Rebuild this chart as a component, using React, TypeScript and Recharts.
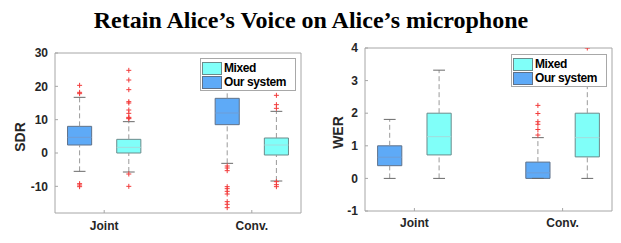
import React from 'react';
import {
  ComposedChart,
  XAxis,
  YAxis,
  Scatter,
  ReferenceArea,
  ReferenceLine,
  Legend,
} from 'recharts';

const categories = ['Joint', 'Conv.'];
const legendNames = ['Mixed', 'Our system'];

// one row per category: [lower whisker, q1, median, q3, upper whisker]
const sdrOurs = [
  [-5.5, 2.4, 4.7, 8.0, 16.7],
  [-3.1, 8.5, 12.0, 16.4, 24.5],
];
const sdrMixed = [
  [-5.7, 0.0, 1.7, 4.1, 9.4],
  [-8.4, -0.6, 2.4, 4.5, 12.5],
];
const sdrOursOutliers = [
  [20.3, 18.2, 17.8, -9.2, -9.6, -10.1],
  [-3.9, -4.5, -5.3, -10.1, -10.7, -11.5, -12.3, -14.6, -15.4, -16.4],
];
const sdrMixedOutliers = [
  [24.8, 21.9, 19.0, 15.4, 15.0, 12.9, 11.9, 10.7, 10.5, 10.3, -6.3, -10.0],
  [17.3, 14.5, 13.4, -8.6, -9.5, -10.1],
];

const werOurs = [
  [0, 0.39, 0.65, 1.0, 1.81],
  [0, 0, 0.17, 0.5, 1.25],
];
const werMixed = [
  [0, 0.72, 1.28, 2.0, 3.32],
  [0, 0.66, 1.25, 2.0, 3.5],
];
const werOursOutliers: number[][] = [[], [2.24, 1.99, 1.74, 1.66, 1.5, 1.33]];
const werMixedOutliers: number[][] = [[], [4.0]];

const sdrTicks = [-10, 0, 10, 20, 30];
const werTicks = [-1, 0, 1, 2, 3, 4];

// layout on the numeric x axis
const CATEGORY_POS = [1, 4];
const OURS_OFFSET = -0.5;
const MIXED_OFFSET = 0.5;
const BOX_HALF = 0.245;
const CAP_HALF = 0.12;

const AXIS = '#a6a6a6';
const TEXT = '#262626';
const WHISKER = '#9a9a9a';
const CAP = '#6a6a6a';
const SANS = "'Liberation Sans', Arial, sans-serif";

const OURS = { fill: '#5EAAF7', edge: '#5f7189', median: '#6f9dd6' };
const MIXED = { fill: '#80FFF9', edge: '#6b8b8b', median: '#a3dcdc' };

const Plus = ({ cx, cy }: any) => (
  <path
    d={`M${cx - 2.5},${cy}H${cx + 2.5}M${cx},${cy - 2.5}V${cy + 2.5}`}
    stroke="#f23b3b"
    strokeWidth={1}
    fill="none"
  />
);

function boxElements(stats: number[][], offset: number, c: typeof OURS, key: string) {
  return stats.flatMap(([lo, q1, med, q3, hi], i) => {
    const x = CATEGORY_POS[i] + offset;
    return [
      <ReferenceLine key={`${key}-wu${i}`} segment={[{ x, y: q3 }, { x, y: hi }]} stroke={WHISKER} strokeDasharray="5 3" />,
      <ReferenceLine key={`${key}-wl${i}`} segment={[{ x, y: lo }, { x, y: q1 }]} stroke={WHISKER} strokeDasharray="5 3" />,
      <ReferenceLine key={`${key}-ch${i}`} segment={[{ x: x - CAP_HALF, y: hi }, { x: x + CAP_HALF, y: hi }]} stroke={CAP} />,
      <ReferenceLine key={`${key}-cl${i}`} segment={[{ x: x - CAP_HALF, y: lo }, { x: x + CAP_HALF, y: lo }]} stroke={CAP} />,
      <ReferenceArea
        key={`${key}-b${i}`}
        x1={x - BOX_HALF}
        x2={x + BOX_HALF}
        y1={q1}
        y2={q3}
        fill={c.fill}
        fillOpacity={1}
        stroke={c.edge}
      />,
      <ReferenceLine key={`${key}-m${i}`} segment={[{ x: x - BOX_HALF, y: med }, { x: x + BOX_HALF, y: med }]} stroke={c.median} />,
    ];
  });
}

const outlierPoints = (out: number[][], offset: number) =>
  out.flatMap((vals, i) => vals.map((y) => ({ x: CATEGORY_POS[i] + offset, y })));

const LegendBox = () => (
  <div
    style={{
      background: '#fff',
      border: '1px solid #a8a8a8',
      width: 96,
      height: 33,
      fontFamily: SANS,
      fontWeight: 'bold',
      fontSize: 12,
      letterSpacing: -0.4,
      lineHeight: '14px',
      color: '#000',
      paddingTop: 2,
      boxSizing: 'border-box',
      whiteSpace: 'nowrap',
    }}
  >
    {legendNames.map((name, i) => {
      const c = i === 0 ? MIXED : OURS;
      return (
        <div key={name} style={{ display: 'flex', alignItems: 'center', height: 14, marginLeft: 1 }}>
          <div
            style={{
              width: 18,
              height: 11,
              flexShrink: 0,
              background: c.fill,
              border: `1px solid ${c.edge}`,
              marginRight: 2,
            }}
          />
          <span>{name}</span>
        </div>
      );
    })}
  </div>
);

type PanelProps = {
  width: number;
  label: string;
  domain: [number, number];
  ticks: number[];
  ours: number[][];
  mixed: number[][];
  oursOut: number[][];
  mixedOut: number[][];
  top: number;
  xHeight: number;
  xMargin: number;
  labelX: number;
  labelDy: number;
  legendLeft: number;
  legendTop: number;
};

function BoxPanel(p: PanelProps) {
  return (
    <ComposedChart width={p.width} height={203} margin={{ top: p.top, right: 8, bottom: 0, left: 0 }}>
      <XAxis
        type="number"
        dataKey="x"
        domain={[0, 5]}
        ticks={CATEGORY_POS}
        tickFormatter={(v) => categories[CATEGORY_POS.indexOf(v)]}
        height={p.xHeight}
        tickSize={-3}
        tickMargin={p.xMargin}
        axisLine={{ stroke: AXIS }}
        tickLine={{ stroke: AXIS }}
        tick={{ fill: TEXT, fontSize: 12, fontWeight: 'bold', fontFamily: SANS }}
        allowDataOverflow
      />
      <XAxis
        xAxisId="top"
        orientation="top"
        type="number"
        domain={[0, 5]}
        ticks={CATEGORY_POS}
        height={1}
        tickSize={-3}
        tick={false}
        axisLine={{ stroke: AXIS }}
        tickLine={{ stroke: AXIS }}
        allowDataOverflow
      />
      <YAxis
        type="number"
        dataKey="y"
        domain={p.domain}
        ticks={p.ticks}
        width={55}
        tickSize={-3}
        tickMargin={10}
        axisLine={{ stroke: AXIS }}
        tickLine={{ stroke: AXIS }}
        tick={{ fill: TEXT, fontSize: 12, fontWeight: 'bold', fontFamily: SANS }}
        allowDataOverflow
        label={(lp: any) => {
          const vb = lp.viewBox;
          const x = vb.x + p.labelX;
          const y = vb.y + vb.height / 2 + p.labelDy;
          return (
            <text
              x={x}
              y={y}
              transform={`rotate(-90, ${x}, ${y})`}
              textAnchor="middle"
              dominantBaseline="central"
              fontSize={14}
              fontWeight="bold"
              fontFamily={SANS}
              fill={TEXT}
            >
              {p.label}
            </text>
          );
        }}
      />
      <YAxis
        yAxisId="right"
        orientation="right"
        type="number"
        domain={p.domain}
        ticks={p.ticks}
        width={1}
        tickSize={-3}
        tick={false}
        axisLine={{ stroke: AXIS }}
        tickLine={{ stroke: AXIS }}
        allowDataOverflow
      />
      {boxElements(p.ours, OURS_OFFSET, OURS, 'o')}
      {boxElements(p.mixed, MIXED_OFFSET, MIXED, 'm')}
      <Scatter
        name="Our system outliers"
        data={outlierPoints(p.oursOut, OURS_OFFSET)}
        shape={(sp: any) => <Plus {...sp} />}
        legendType="none"
        isAnimationActive={false}
      />
      <Scatter
        name="Mixed outliers"
        data={outlierPoints(p.mixedOut, MIXED_OFFSET)}
        shape={(sp: any) => <Plus {...sp} />}
        legendType="none"
        isAnimationActive={false}
      />
      <Legend
        layout="vertical"
        align="center"
        verticalAlign="middle"
        wrapperStyle={{ left: p.legendLeft, top: p.legendTop, width: 96, height: 33 }}
        content={() => <LegendBox />}
      />
    </ComposedChart>
  );
}

export default function App() {
  return (
    <div style={{ position: 'absolute', left: 0, top: 0, width: 621, height: 243, background: '#fff' }}>
      <svg width={621} height={40} style={{ position: 'absolute', left: 0, top: 0 }}>
        <text
          x={311}
          y={28}
          textAnchor="middle"
          fontFamily="'Liberation Serif', 'Times New Roman', serif"
          fontWeight="bold"
          fontSize={24}
          fill="#000"
        >
          Retain Alice’s Voice on Alice’s microphone
        </text>
      </svg>
      <div style={{ position: 'absolute', left: 0, top: 40 }}>
        <BoxPanel
          width={310}
          label="SDR"
          domain={[-18, 30]}
          ticks={sdrTicks}
          ours={sdrOurs}
          mixed={sdrMixed}
          oursOut={sdrOursOutliers}
          mixedOut={sdrMixedOutliers}
          top={12}
          xHeight={30}
          xMargin={11}
          labelX={20}
          labelDy={4}
          legendLeft={200}
          legendTop={18}
        />
      </div>
      <div style={{ position: 'absolute', left: 310, top: 40 }}>
        <BoxPanel
          width={311}
          label="WER"
          domain={[-1, 4]}
          ticks={werTicks}
          ours={werOurs}
          mixed={werMixed}
          oursOut={werOursOutliers}
          mixedOut={werMixedOutliers}
          top={7}
          xHeight={32}
          xMargin={10}
          labelX={28}
          labelDy={3}
          legendLeft={201}
          legendTop={14}
        />
      </div>
    </div>
  );
}
